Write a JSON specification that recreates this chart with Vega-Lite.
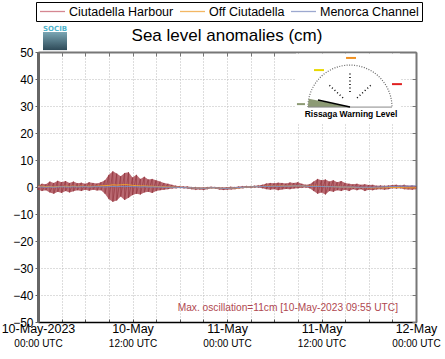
{
  "$schema": "https://vega.github.io/schema/vega-lite/v6.json",
  "width": 378,
  "height": 270,
  "autosize": {"type": "none"},
  "padding": {"left": 38, "top": 52, "right": 29, "bottom": 37},
  "background": "white",
  "config": {
    "view": {"stroke": null},
    "font": "Liberation Sans",
    "axis": {"labelFont": "Liberation Sans", "labelColor": "black"},
    "legend": {"labelFont": "Liberation Sans"}
  },
  "data": {"values": [
    {"t":"2023-05-10T00:00Z","hi":0.5,"lo":-1.0,"o":0.2,"m":0.0},
    {"t":"2023-05-10T00:30Z","hi":1.2,"lo":-1.5,"o":0.3,"m":0.0},
    {"t":"2023-05-10T01:00Z","hi":1.0,"lo":-1.2,"o":0.1,"m":-0.1},
    {"t":"2023-05-10T01:30Z","hi":2.0,"lo":-2.0,"o":0.2,"m":0.0},
    {"t":"2023-05-10T02:00Z","hi":1.5,"lo":-2.5,"o":0.0,"m":-0.1},
    {"t":"2023-05-10T02:30Z","hi":2.3,"lo":-1.8,"o":0.2,"m":0.0},
    {"t":"2023-05-10T03:00Z","hi":1.8,"lo":-2.2,"o":0.1,"m":0.1},
    {"t":"2023-05-10T03:30Z","hi":2.2,"lo":-1.5,"o":0.3,"m":0.0},
    {"t":"2023-05-10T04:00Z","hi":1.5,"lo":-2.0,"o":0.2,"m":0.0},
    {"t":"2023-05-10T04:30Z","hi":2.0,"lo":-1.6,"o":0.3,"m":0.1},
    {"t":"2023-05-10T05:00Z","hi":1.4,"lo":-1.2,"o":0.2,"m":0.0},
    {"t":"2023-05-10T05:30Z","hi":1.6,"lo":-1.5,"o":0.3,"m":0.1},
    {"t":"2023-05-10T06:00Z","hi":1.2,"lo":-1.0,"o":0.2,"m":0.1},
    {"t":"2023-05-10T06:30Z","hi":1.8,"lo":-1.4,"o":0.3,"m":0.0},
    {"t":"2023-05-10T07:00Z","hi":1.5,"lo":-1.0,"o":0.2,"m":0.1},
    {"t":"2023-05-10T07:30Z","hi":1.3,"lo":-1.3,"o":0.3,"m":0.1},
    {"t":"2023-05-10T08:00Z","hi":1.8,"lo":-1.2,"o":0.4,"m":0.1},
    {"t":"2023-05-10T08:30Z","hi":2.5,"lo":-2.5,"o":0.5,"m":0.0},
    {"t":"2023-05-10T09:00Z","hi":4.5,"lo":-4.5,"o":0.6,"m":0.1},
    {"t":"2023-05-10T09:30Z","hi":5.8,"lo":-5.5,"o":0.8,"m":0.2},
    {"t":"2023-05-10T10:00Z","hi":5.0,"lo":-5.0,"o":0.7,"m":0.1},
    {"t":"2023-05-10T10:30Z","hi":4.0,"lo":-3.5,"o":0.8,"m":0.2},
    {"t":"2023-05-10T11:00Z","hi":5.2,"lo":-4.8,"o":0.9,"m":0.1},
    {"t":"2023-05-10T11:30Z","hi":5.5,"lo":-4.0,"o":0.8,"m":0.2},
    {"t":"2023-05-10T12:00Z","hi":3.5,"lo":-3.0,"o":0.6,"m":0.1},
    {"t":"2023-05-10T12:30Z","hi":4.5,"lo":-2.5,"o":0.5,"m":0.1},
    {"t":"2023-05-10T13:00Z","hi":3.0,"lo":-2.8,"o":0.4,"m":0.0},
    {"t":"2023-05-10T13:30Z","hi":3.8,"lo":-2.0,"o":0.4,"m":0.1},
    {"t":"2023-05-10T14:00Z","hi":2.8,"lo":-1.8,"o":0.3,"m":0.0},
    {"t":"2023-05-10T14:30Z","hi":3.0,"lo":-2.2,"o":0.3,"m":0.0},
    {"t":"2023-05-10T15:00Z","hi":2.5,"lo":-1.5,"o":0.2,"m":0.0},
    {"t":"2023-05-10T15:30Z","hi":2.0,"lo":-1.2,"o":0.1,"m":0.0},
    {"t":"2023-05-10T16:00Z","hi":1.5,"lo":-1.0,"o":0.1,"m":-0.1},
    {"t":"2023-05-10T16:30Z","hi":1.2,"lo":-0.8,"o":0.0,"m":-0.1},
    {"t":"2023-05-10T17:00Z","hi":0.8,"lo":-0.6,"o":0.0,"m":-0.1},
    {"t":"2023-05-10T17:30Z","hi":0.5,"lo":-0.5,"o":-0.1,"m":-0.1},
    {"t":"2023-05-10T18:00Z","hi":0.3,"lo":-0.4,"o":-0.1,"m":-0.2},
    {"t":"2023-05-10T18:30Z","hi":0.2,"lo":-0.5,"o":-0.2,"m":-0.2},
    {"t":"2023-05-10T19:00Z","hi":0.2,"lo":-0.6,"o":-0.2,"m":-0.3},
    {"t":"2023-05-10T19:30Z","hi":0.0,"lo":-0.8,"o":-0.3,"m":-0.3},
    {"t":"2023-05-10T20:00Z","hi":0.0,"lo":-1.0,"o":-0.4,"m":-0.4},
    {"t":"2023-05-10T20:30Z","hi":-0.2,"lo":-0.9,"o":-0.4,"m":-0.4},
    {"t":"2023-05-10T21:00Z","hi":-0.2,"lo":-1.1,"o":-0.5,"m":-0.5},
    {"t":"2023-05-10T21:30Z","hi":0.0,"lo":-0.8,"o":-0.4,"m":-0.4},
    {"t":"2023-05-10T22:00Z","hi":0.1,"lo":-0.5,"o":-0.3,"m":-0.3},
    {"t":"2023-05-10T22:30Z","hi":0.0,"lo":-0.6,"o":-0.3,"m":-0.3},
    {"t":"2023-05-10T23:00Z","hi":-0.1,"lo":-0.9,"o":-0.4,"m":-0.4},
    {"t":"2023-05-10T23:30Z","hi":-0.2,"lo":-1.1,"o":-0.5,"m":-0.5},
    {"t":"2023-05-11T00:00Z","hi":-0.1,"lo":-1.0,"o":-0.5,"m":-0.5},
    {"t":"2023-05-11T00:30Z","hi":0.1,"lo":-0.9,"o":-0.4,"m":-0.4},
    {"t":"2023-05-11T01:00Z","hi":0.0,"lo":-0.8,"o":-0.4,"m":-0.3},
    {"t":"2023-05-11T01:30Z","hi":0.2,"lo":-0.6,"o":-0.3,"m":-0.2},
    {"t":"2023-05-11T02:00Z","hi":0.3,"lo":-0.5,"o":-0.2,"m":-0.1},
    {"t":"2023-05-11T02:30Z","hi":0.4,"lo":-0.3,"o":0.0,"m":0.0},
    {"t":"2023-05-11T03:00Z","hi":0.3,"lo":-0.4,"o":0.0,"m":0.0},
    {"t":"2023-05-11T03:30Z","hi":0.5,"lo":-0.2,"o":0.1,"m":0.1},
    {"t":"2023-05-11T04:00Z","hi":0.6,"lo":-0.2,"o":0.2,"m":0.1},
    {"t":"2023-05-11T04:30Z","hi":0.8,"lo":-0.5,"o":0.2,"m":0.2},
    {"t":"2023-05-11T05:00Z","hi":1.3,"lo":-0.8,"o":0.3,"m":0.2},
    {"t":"2023-05-11T05:30Z","hi":1.5,"lo":-1.0,"o":0.3,"m":0.2},
    {"t":"2023-05-11T06:00Z","hi":1.4,"lo":-0.8,"o":0.3,"m":0.3},
    {"t":"2023-05-11T06:30Z","hi":1.6,"lo":-1.2,"o":0.3,"m":0.2},
    {"t":"2023-05-11T07:00Z","hi":1.5,"lo":-0.9,"o":0.4,"m":0.3},
    {"t":"2023-05-11T07:30Z","hi":1.3,"lo":-0.7,"o":0.3,"m":0.3},
    {"t":"2023-05-11T08:00Z","hi":1.7,"lo":-0.8,"o":0.4,"m":0.3},
    {"t":"2023-05-11T08:30Z","hi":1.5,"lo":-0.6,"o":0.4,"m":0.4},
    {"t":"2023-05-11T09:00Z","hi":1.8,"lo":-0.5,"o":0.4,"m":0.4},
    {"t":"2023-05-11T09:30Z","hi":1.2,"lo":-0.3,"o":0.4,"m":0.4},
    {"t":"2023-05-11T10:00Z","hi":0.8,"lo":-0.2,"o":0.3,"m":0.3},
    {"t":"2023-05-11T10:30Z","hi":1.0,"lo":-0.5,"o":0.3,"m":0.2},
    {"t":"2023-05-11T11:00Z","hi":2.0,"lo":-1.5,"o":0.3,"m":0.2},
    {"t":"2023-05-11T11:30Z","hi":3.0,"lo":-2.5,"o":0.3,"m":0.2},
    {"t":"2023-05-11T12:00Z","hi":2.5,"lo":-2.0,"o":0.2,"m":0.2},
    {"t":"2023-05-11T12:30Z","hi":2.8,"lo":-2.8,"o":0.2,"m":0.1},
    {"t":"2023-05-11T13:00Z","hi":2.0,"lo":-1.5,"o":0.2,"m":0.1},
    {"t":"2023-05-11T13:30Z","hi":2.5,"lo":-1.8,"o":0.1,"m":0.1},
    {"t":"2023-05-11T14:00Z","hi":1.8,"lo":-1.2,"o":0.1,"m":0.0},
    {"t":"2023-05-11T14:30Z","hi":2.2,"lo":-1.5,"o":0.0,"m":0.0},
    {"t":"2023-05-11T15:00Z","hi":1.5,"lo":-1.0,"o":0.0,"m":0.0},
    {"t":"2023-05-11T15:30Z","hi":1.2,"lo":-1.5,"o":-0.1,"m":0.0},
    {"t":"2023-05-11T16:00Z","hi":1.0,"lo":-0.8,"o":-0.1,"m":0.0},
    {"t":"2023-05-11T16:30Z","hi":1.2,"lo":-1.2,"o":-0.2,"m":-0.1},
    {"t":"2023-05-11T17:00Z","hi":0.8,"lo":-0.8,"o":-0.2,"m":-0.1},
    {"t":"2023-05-11T17:30Z","hi":1.0,"lo":-1.5,"o":-0.2,"m":-0.1},
    {"t":"2023-05-11T18:00Z","hi":0.7,"lo":-1.0,"o":-0.3,"m":-0.1},
    {"t":"2023-05-11T18:30Z","hi":0.8,"lo":-1.2,"o":-0.3,"m":-0.1},
    {"t":"2023-05-11T19:00Z","hi":0.5,"lo":-0.9,"o":-0.3,"m":0.0},
    {"t":"2023-05-11T19:30Z","hi":0.6,"lo":-0.8,"o":-0.3,"m":0.0},
    {"t":"2023-05-11T20:00Z","hi":0.5,"lo":-1.0,"o":-0.3,"m":0.1},
    {"t":"2023-05-11T20:30Z","hi":0.6,"lo":-0.8,"o":-0.2,"m":0.1},
    {"t":"2023-05-11T21:00Z","hi":0.7,"lo":-0.5,"o":-0.2,"m":0.2},
    {"t":"2023-05-11T21:30Z","hi":0.8,"lo":-0.6,"o":-0.2,"m":0.2},
    {"t":"2023-05-11T22:00Z","hi":0.6,"lo":-0.5,"o":-0.2,"m":0.3},
    {"t":"2023-05-11T22:30Z","hi":0.8,"lo":-0.8,"o":-0.3,"m":0.3},
    {"t":"2023-05-11T23:00Z","hi":0.5,"lo":-0.9,"o":-0.3,"m":0.3},
    {"t":"2023-05-11T23:30Z","hi":0.6,"lo":-1.0,"o":-0.3,"m":0.4},
    {"t":"2023-05-12T00:00Z","hi":0.4,"lo":-0.8,"o":-0.3,"m":0.4}
  ]},
  "layer": [
    {
      "mark": {"type": "area", "color": "#a8434d", "opacity": 0.8},
      "encoding": {
        "x": {"field": "t", "type": "temporal",
          "scale": {"type": "utc", "domain": [{"year": 2023, "month": 5, "date": 10, "utc": true}, {"year": 2023, "month": 5, "date": 12, "utc": true}]},
          "axis": {"orient": "bottom", "title": null,
            "values": [
              {"year": 2023, "month": 5, "date": 10, "hours": 0, "utc": true},
              {"year": 2023, "month": 5, "date": 10, "hours": 3, "utc": true},
              {"year": 2023, "month": 5, "date": 10, "hours": 6, "utc": true},
              {"year": 2023, "month": 5, "date": 10, "hours": 9, "utc": true},
              {"year": 2023, "month": 5, "date": 10, "hours": 12, "utc": true},
              {"year": 2023, "month": 5, "date": 10, "hours": 15, "utc": true},
              {"year": 2023, "month": 5, "date": 10, "hours": 18, "utc": true},
              {"year": 2023, "month": 5, "date": 10, "hours": 21, "utc": true},
              {"year": 2023, "month": 5, "date": 11, "hours": 0, "utc": true},
              {"year": 2023, "month": 5, "date": 11, "hours": 3, "utc": true},
              {"year": 2023, "month": 5, "date": 11, "hours": 6, "utc": true},
              {"year": 2023, "month": 5, "date": 11, "hours": 9, "utc": true},
              {"year": 2023, "month": 5, "date": 11, "hours": 12, "utc": true},
              {"year": 2023, "month": 5, "date": 11, "hours": 15, "utc": true},
              {"year": 2023, "month": 5, "date": 11, "hours": 18, "utc": true},
              {"year": 2023, "month": 5, "date": 11, "hours": 21, "utc": true},
              {"year": 2023, "month": 5, "date": 12, "hours": 0, "utc": true}],
            "labelExpr": "(utcFormat(datum.value,'%H') == '00' || utcFormat(datum.value,'%H') == '12') ? utcFormat(datum.value,'%d-%b') + (utcFormat(datum.value,'%d%H') == '1000' ? '-2023' : '') : ''",
            "labelFontSize": 12.5, "labelColor": "black", "labelPadding": 3, "labelBaseline": "top",
            "labelOverlap": false, "labelBound": false, "labelFlush": false,
            "ticks": true, "tickSize": -3, "tickColor": "#555",
            "domainColor": "black", "domainWidth": 1.5,
            "grid": true, "gridColor": "#bbbbbb", "gridDash": [1, 2]}},
        "y": {"field": "hi", "type": "quantitative",
          "scale": {"domain": [-50, 50], "nice": false},
          "axis": {"orient": "left", "title": null, "values": [-50, -40, -30, -20, -10, 0, 10, 20, 30, 40, 50],
            "labelFontSize": 12, "labelColor": "black", "labelPadding": 2,
            "tickSize": 3, "tickColor": "#666", "domainColor": "#666", "domainWidth": 3,
            "grid": true, "gridColor": "#bbbbbb", "gridDash": [1, 2]}},
        "y2": {"field": "lo"}
      }
    },
    {
      "transform": [{"fold": ["hi", "lo"], "as": ["k", "v"]}],
      "mark": {"type": "line", "color": "#8c2c36", "strokeWidth": 0.7, "opacity": 0.8},
      "encoding": {
        "x": {"field": "t", "type": "temporal",
          "axis": {"orient": "bottom", "title": null,
            "values": [
              {"year": 2023, "month": 5, "date": 10, "hours": 0, "utc": true},
              {"year": 2023, "month": 5, "date": 10, "hours": 12, "utc": true},
              {"year": 2023, "month": 5, "date": 11, "hours": 0, "utc": true},
              {"year": 2023, "month": 5, "date": 11, "hours": 12, "utc": true},
              {"year": 2023, "month": 5, "date": 12, "hours": 0, "utc": true}],
            "labelExpr": "utcFormat(datum.value,'%H:%M') + ' UTC'",
            "labelFontSize": 10, "labelColor": "black", "labelPadding": 16, "labelBaseline": "top",
            "labelOverlap": false, "labelBound": false, "labelFlush": false,
            "ticks": false, "domain": false, "grid": false}},
        "y": {"field": "v", "type": "quantitative",
          "axis": {"orient": "right", "title": null, "values": [-50, -40, -30, -20, -10, 0, 10, 20, 30, 40, 50],
            "labels": false, "tickSize": -4, "tickColor": "#777", "domainColor": "#777", "domainWidth": 2, "grid": false}}
      }
    },
    {
      "transform": [{"fold": ["o", "m"], "as": ["s", "v"]}],
      "mark": {"type": "line", "strokeWidth": 1},
      "encoding": {
        "x": {"field": "t", "type": "temporal",
          "axis": {"orient": "top", "title": null,
            "values": [
              {"year": 2023, "month": 5, "date": 10, "hours": 0, "utc": true},
              {"year": 2023, "month": 5, "date": 10, "hours": 3, "utc": true},
              {"year": 2023, "month": 5, "date": 10, "hours": 6, "utc": true},
              {"year": 2023, "month": 5, "date": 10, "hours": 9, "utc": true},
              {"year": 2023, "month": 5, "date": 10, "hours": 12, "utc": true},
              {"year": 2023, "month": 5, "date": 10, "hours": 15, "utc": true},
              {"year": 2023, "month": 5, "date": 10, "hours": 18, "utc": true},
              {"year": 2023, "month": 5, "date": 10, "hours": 21, "utc": true},
              {"year": 2023, "month": 5, "date": 11, "hours": 0, "utc": true},
              {"year": 2023, "month": 5, "date": 11, "hours": 3, "utc": true},
              {"year": 2023, "month": 5, "date": 11, "hours": 6, "utc": true},
              {"year": 2023, "month": 5, "date": 11, "hours": 9, "utc": true},
              {"year": 2023, "month": 5, "date": 11, "hours": 12, "utc": true},
              {"year": 2023, "month": 5, "date": 11, "hours": 15, "utc": true},
              {"year": 2023, "month": 5, "date": 11, "hours": 18, "utc": true},
              {"year": 2023, "month": 5, "date": 11, "hours": 21, "utc": true},
              {"year": 2023, "month": 5, "date": 12, "hours": 0, "utc": true}],
            "labels": false, "tickSize": -4, "tickColor": "#777", "domainColor": "#777", "domainWidth": 2, "grid": false}},
        "y": {"field": "v", "type": "quantitative", "axis": null},
        "color": {"field": "s", "type": "nominal",
          "scale": {"domain": ["h", "o", "m"], "range": ["#c8606e", "#f0a030", "#7c8cc0"]},
          "legend": {"orient": "none", "legendX": -2, "legendY": -50, "direction": "horizontal", "title": null,
            "symbolType": "stroke", "symbolSize": 625, "symbolStrokeWidth": 1.3, "symbolOpacity": 0.75, "clipHeight": 13,
            "labelExpr": "datum.label == 'h' ? 'Ciutadella Harbour' : datum.label == 'o' ? 'Off Ciutadella' : 'Menorca Channel'",
            "labelFontSize": 12.5, "labelColor": "black", "labelOffset": 3, "columnPadding": 5,
            "padding": 3, "strokeColor": "black", "fillColor": "white"}}
      }
    },
    {
      "data": {"values": [{}]},
      "mark": {"type": "text", "text": "Sea level anomalies (cm)", "align": "center", "baseline": "alphabetic", "fontSize": 17, "color": "black", "font": "Liberation Sans"},
      "encoding": {
        "x": {"datum": {"year": 2023, "month": 5, "date": 11, "hours": 0, "utc": true}, "type": "temporal", "axis": null},
        "y": {"datum": 54.1, "type": "quantitative", "axis": null}
      }
    },
    {
      "data": {"values": [{}]},
      "mark": {"type": "rect", "color": "white"},
      "encoding": {
        "x": {"datum": {"year": 2023, "month": 5, "date": 11, "hours": 8, "minutes": 46, "utc": true}, "type": "temporal", "axis": null},
        "x2": {"datum": {"year": 2023, "month": 5, "date": 11, "hours": 21, "minutes": 58, "utc": true}},
        "y": {"datum": 49.4, "type": "quantitative", "axis": null},
        "y2": {"datum": 23.3}
      }
    },
    {
      "data": {"values": [{}]},
      "mark": {"type": "arc", "theta": -1.5708, "theta2": 1.5708, "radius": 42, "radius2": 42, "fill": "transparent", "stroke": "#666", "strokeWidth": 1.2, "strokeDash": [1, 4]},
      "encoding": {
        "x": {"datum": {"year": 2023, "month": 5, "date": 11, "hours": 15, "minutes": 37, "utc": true}, "type": "temporal", "axis": null},
        "y": {"datum": 29.6, "type": "quantitative", "axis": null}
      }
    },
    {
      "data": {"values": [{}]},
      "mark": {"type": "arc", "theta": -1.5708, "theta2": -1.37, "radius": 42, "radius2": 0, "fill": "#8c9a74"},
      "encoding": {
        "x": {"datum": {"year": 2023, "month": 5, "date": 11, "hours": 15, "minutes": 37, "utc": true}, "type": "temporal", "axis": null},
        "y": {"datum": 29.6, "type": "quantitative", "axis": null}
      }
    },
    {
      "data": {"values": [{}]},
      "mark": {"type": "rule", "color": "#888", "strokeWidth": 1},
      "encoding": {
        "x": {"datum": {"year": 2023, "month": 5, "date": 11, "hours": 10, "minutes": 17, "utc": true}, "type": "temporal", "axis": null},
        "x2": {"datum": {"year": 2023, "month": 5, "date": 11, "hours": 20, "minutes": 57, "utc": true}},
        "y": {"datum": 29.6, "type": "quantitative", "axis": null}
      }
    },
    {
      "data": {"values": [{}]},
      "mark": {"type": "rule", "color": "black", "strokeWidth": 1.5},
      "encoding": {
        "x": {"datum": {"year": 2023, "month": 5, "date": 11, "hours": 11, "minutes": 33, "utc": true}, "type": "temporal", "axis": null},
        "x2": {"datum": {"year": 2023, "month": 5, "date": 11, "hours": 15, "minutes": 37, "utc": true}},
        "y": {"datum": 32.2, "type": "quantitative", "axis": null},
        "y2": {"datum": 29.6}
      }
    },
    {
      "data": {"values": [{}]},
      "mark": {"type": "rule", "color": "black", "strokeWidth": 1.5, "strokeDash": [1, 2.5]},
      "encoding": {
        "x": {"datum": {"year": 2023, "month": 5, "date": 11, "hours": 14, "minutes": 44, "utc": true}, "type": "temporal", "axis": null},
        "x2": {"datum": {"year": 2023, "month": 5, "date": 11, "hours": 12, "minutes": 50, "utc": true}},
        "y": {"datum": 33.0, "type": "quantitative", "axis": null},
        "y2": {"datum": 38.1}
      }
    },
    {
      "data": {"values": [{}]},
      "mark": {"type": "rule", "color": "black", "strokeWidth": 1.5, "strokeDash": [1, 2.5]},
      "encoding": {
        "x": {"datum": {"year": 2023, "month": 5, "date": 11, "hours": 15, "minutes": 37, "utc": true}, "type": "temporal", "axis": null},
        "y": {"datum": 35.2, "type": "quantitative", "axis": null},
        "y2": {"datum": 42.6}
      }
    },
    {
      "data": {"values": [{}]},
      "mark": {"type": "rule", "color": "black", "strokeWidth": 1.5, "strokeDash": [1, 2.5]},
      "encoding": {
        "x": {"datum": {"year": 2023, "month": 5, "date": 11, "hours": 16, "minutes": 31, "utc": true}, "type": "temporal", "axis": null},
        "x2": {"datum": {"year": 2023, "month": 5, "date": 11, "hours": 18, "minutes": 25, "utc": true}},
        "y": {"datum": 33.0, "type": "quantitative", "axis": null},
        "y2": {"datum": 38.1}
      }
    },
    {
      "data": {"values": [{}]},
      "mark": {"type": "rule", "color": "#f09020", "strokeWidth": 2},
      "encoding": {
        "x": {"datum": {"year": 2023, "month": 5, "date": 11, "hours": 15, "minutes": 7, "utc": true}, "type": "temporal", "axis": null},
        "x2": {"datum": {"year": 2023, "month": 5, "date": 11, "hours": 16, "minutes": 23, "utc": true}},
        "y": {"datum": 47.8, "type": "quantitative", "axis": null}
      }
    },
    {
      "data": {"values": [{}]},
      "mark": {"type": "rule", "color": "#e8d800", "strokeWidth": 2},
      "encoding": {
        "x": {"datum": {"year": 2023, "month": 5, "date": 11, "hours": 11, "minutes": 3, "utc": true}, "type": "temporal", "axis": null},
        "x2": {"datum": {"year": 2023, "month": 5, "date": 11, "hours": 12, "minutes": 19, "utc": true}},
        "y": {"datum": 43.3, "type": "quantitative", "axis": null}
      }
    },
    {
      "data": {"values": [{}]},
      "mark": {"type": "rule", "color": "#e02020", "strokeWidth": 2},
      "encoding": {
        "x": {"datum": {"year": 2023, "month": 5, "date": 11, "hours": 20, "minutes": 57, "utc": true}, "type": "temporal", "axis": null},
        "x2": {"datum": {"year": 2023, "month": 5, "date": 11, "hours": 22, "minutes": 13, "utc": true}},
        "y": {"datum": 38.1, "type": "quantitative", "axis": null}
      }
    },
    {
      "data": {"values": [{}]},
      "mark": {"type": "rule", "color": "#8c9a74", "strokeWidth": 2},
      "encoding": {
        "x": {"datum": {"year": 2023, "month": 5, "date": 11, "hours": 8, "minutes": 53, "utc": true}, "type": "temporal", "axis": null},
        "x2": {"datum": {"year": 2023, "month": 5, "date": 11, "hours": 9, "minutes": 54, "utc": true}},
        "y": {"datum": 30.7, "type": "quantitative", "axis": null}
      }
    },
    {
      "data": {"values": [{}]},
      "mark": {"type": "text", "text": "Max. oscillation=11cm [10-May-2023 09:55 UTC]", "align": "right", "baseline": "middle", "fontSize": 10.2, "color": "#b04850", "font": "Liberation Sans"},
      "encoding": {
        "x": {"datum": {"year": 2023, "month": 5, "date": 11, "hours": 21, "minutes": 43, "utc": true}, "type": "temporal", "axis": null},
        "y": {"datum": -44.8, "type": "quantitative", "axis": null}
      }
    },
    {
      "data": {"values": [{}]},
      "mark": {"type": "text", "text": "Rissaga Warning Level", "align": "center", "baseline": "middle", "fontSize": 8.5, "fontWeight": "bold", "color": "black", "font": "Liberation Sans"},
      "encoding": {
        "x": {"datum": {"year": 2023, "month": 5, "date": 11, "hours": 15, "minutes": 45, "utc": true}, "type": "temporal", "axis": null},
        "y": {"datum": 26.9, "type": "quantitative", "axis": null}
      }
    },
    {
      "data": {"values": [{}]},
      "mark": {"type": "rect", "fill": {"gradient": "linear", "x1": 0, "y1": 0, "x2": 0, "y2": 1, "stops": [{"offset": 0, "color": "#7aa6b4"}, {"offset": 1, "color": "#2e4a58"}]}},
      "encoding": {
        "x": {"datum": {"year": 2023, "month": 5, "date": 10, "hours": 0, "minutes": 38, "utc": true}, "type": "temporal", "axis": null},
        "x2": {"datum": {"year": 2023, "month": 5, "date": 10, "hours": 3, "minutes": 41, "utc": true}},
        "y": {"datum": 57.4, "type": "quantitative", "axis": null},
        "y2": {"datum": 50.7}
      }
    },
    {
      "data": {"values": [{}]},
      "mark": {"type": "text", "text": "SOCIB", "align": "center", "baseline": "middle", "fontSize": 7, "fontWeight": "bold", "color": "#50b4cc", "font": "DejaVu Sans"},
      "encoding": {
        "x": {"datum": {"year": 2023, "month": 5, "date": 10, "hours": 2, "minutes": 10, "utc": true}, "type": "temporal", "axis": null},
        "y": {"datum": 58.4, "type": "quantitative", "axis": null}
      }
    }
  ],
  "resolve": {"axis": {"x": "independent", "y": "independent"}}
}
